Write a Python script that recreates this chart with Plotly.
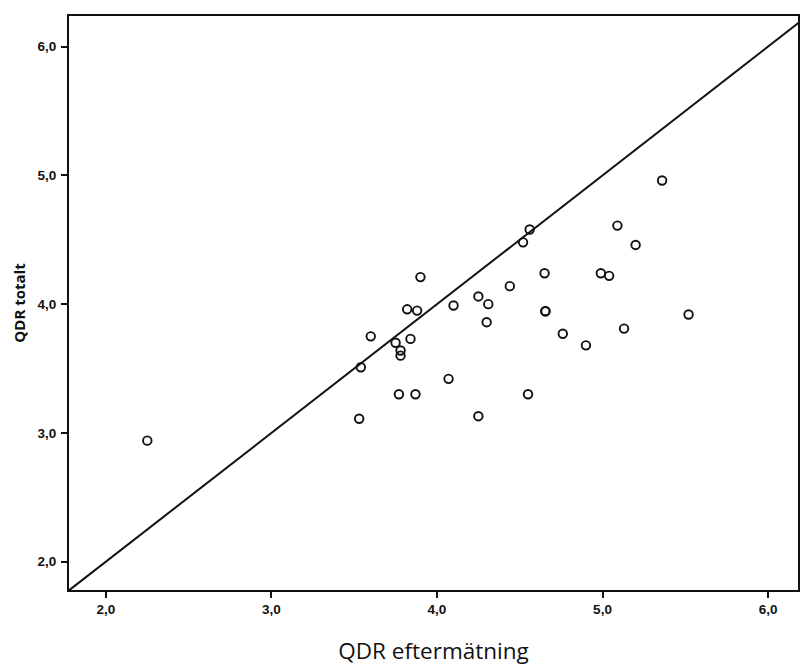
import plotly.graph_objects as go

# Data
qdr_efter = [2.25, 4.56, 4.52, 4.65, 3.90, 4.44, 4.25, 4.31, 3.82, 3.88, 4.10,
             4.655, 4.655, 4.30, 4.76, 3.60, 3.75, 3.84, 3.78, 3.78, 3.54, 4.07,
             3.77, 3.87, 4.55, 4.25, 3.53, 5.36, 5.09, 5.20, 4.99, 5.04, 5.52,
             5.13, 4.90]
qdr_totalt = [2.94, 4.58, 4.48, 4.24, 4.21, 4.14, 4.06, 4.00, 3.96, 3.95, 3.99,
              3.945, 3.945, 3.86, 3.77, 3.75, 3.70, 3.73, 3.64, 3.60, 3.51, 3.42,
              3.30, 3.30, 3.30, 3.13, 3.11, 4.96, 4.61, 4.46, 4.24, 4.22, 3.92,
              3.81, 3.68]
ref_line = [1.5, 6.5]
tick_vals = [2.0, 3.0, 4.0, 5.0, 6.0]
tick_text = ["2,0", "3,0", "4,0", "5,0", "6,0"]

fig = go.Figure()
fig.add_trace(go.Scatter(x=ref_line, y=ref_line, mode="lines",
                         line=dict(color="#111111", width=2),
                         hoverinfo="skip", showlegend=False))
fig.add_trace(go.Scatter(x=qdr_efter, y=qdr_totalt, mode="markers",
                         marker=dict(symbol="circle-open", size=8.5,
                                     color="#111111", line=dict(width=1.9)),
                         showlegend=False))

tickfont = dict(family="Liberation Sans, Arial, sans-serif", size=13.5,
                color="#111111", weight="bold")

fig.update_layout(
    width=801, height=666,
    margin=dict(l=69, r=1, t=16, b=76),
    paper_bgcolor="white", plot_bgcolor="white",
    xaxis=dict(range=[1.777, 6.181], tickvals=tick_vals, ticktext=tick_text,
               showgrid=False, zeroline=False, showline=True, linewidth=2,
               linecolor="#111111", mirror=True, ticks="outside", ticklen=6,
               tickwidth=2, tickcolor="#111111", tickfont=tickfont,
               title=dict(text="QDR eftermätning",
                          font=dict(family="Open Sans, sans-serif", size=22.5,
                                    color="#111111"),
                          standoff=27)),
    yaxis=dict(range=[1.780, 6.238], tickvals=tick_vals, ticktext=tick_text,
               showgrid=False, zeroline=False, showline=True, linewidth=2,
               linecolor="#111111", mirror=True, ticks="outside", ticklen=6,
               tickwidth=2, tickcolor="#111111", tickfont=tickfont,
               ticklabelstandoff=2,
               title=dict(text="QDR totalt",
                          font=dict(family="Open Sans, sans-serif", size=15,
                                    color="#111111", weight="bold"),
                          standoff=8)),
)

fig.write_html("out.html", config={"displayModeBar": False},
               post_script="document.body.style.margin='0';"
                           "document.body.style.overflow='hidden';")
